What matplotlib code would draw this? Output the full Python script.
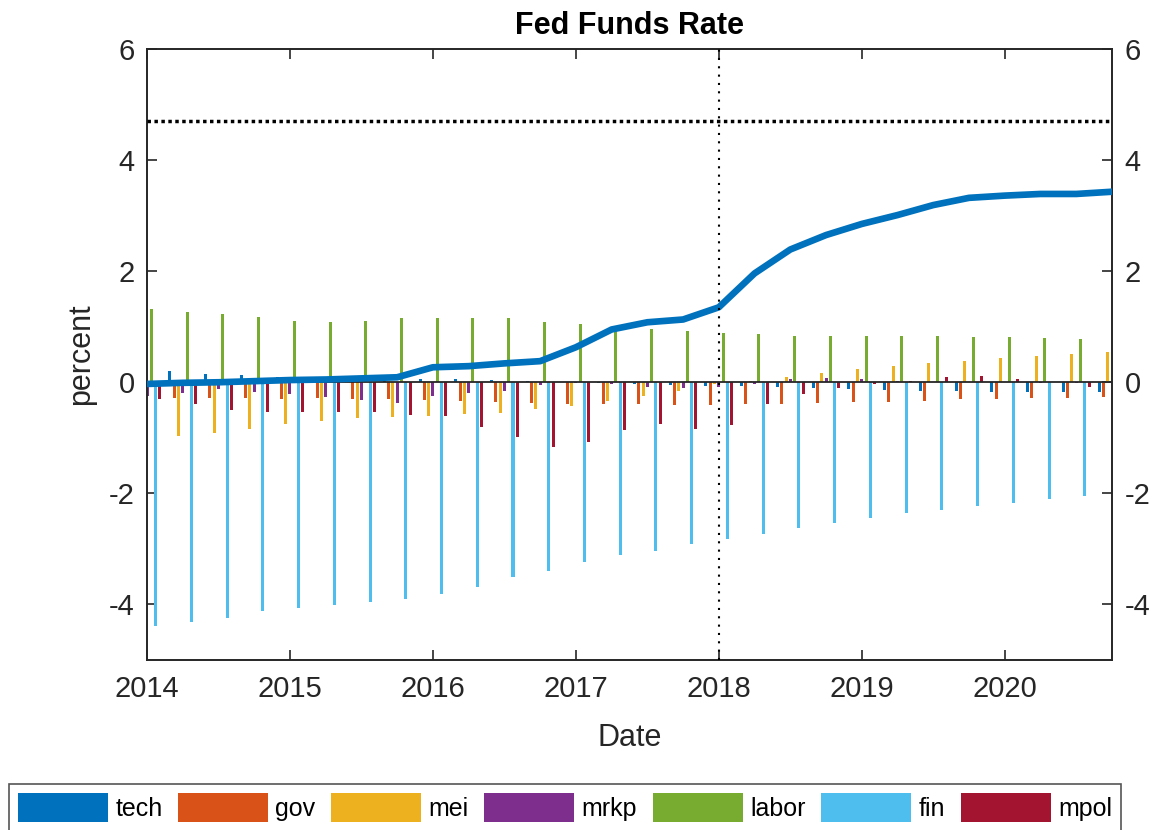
import numpy as np
import matplotlib
matplotlib.use("Agg")
import matplotlib.pyplot as plt

plt.rcParams['font.family'] = ['Liberation Sans', 'DejaVu Sans']
plt.rcParams['axes.unicode_minus'] = False

# quarterly dates, 2014Q1 .. 2020Q4
dates = 2014 + 0.25 * np.arange(28)

names = ['tech', 'gov', 'mei', 'mrkp', 'labor', 'fin', 'mpol']
colors = ['#0072BD', '#D95319', '#EDB120', '#7E2F8E', '#77AC30', '#4DBEEE', '#A2142F']

tech = [0.00, 0.20, 0.15, 0.13, 0.09, 0.03, 0.02, 0.02, 0.05, 0.06, 0.04, 0.03, 0.01, -0.01,
        -0.04, -0.05, -0.07, -0.07, -0.08, -0.10, -0.13, -0.14, -0.16, -0.16, -0.17, -0.17, -0.17, -0.17]
gov = [-0.25, -0.28, -0.28, -0.29, -0.30, -0.29, -0.30, -0.31, -0.32, -0.34, -0.35, -0.37, -0.39, -0.40,
       -0.40, -0.41, -0.41, -0.40, -0.39, -0.38, -0.36, -0.35, -0.33, -0.31, -0.30, -0.29, -0.28, -0.27]
mei = [-0.95, -0.97, -0.91, -0.85, -0.76, -0.70, -0.65, -0.62, -0.60, -0.58, -0.55, -0.49, -0.42, -0.33,
       -0.25, -0.15, -0.04, 0.02, 0.10, 0.16, 0.23, 0.29, 0.35, 0.39, 0.44, 0.48, 0.51, 0.54]
mrkp = [-0.25, -0.19, -0.13, -0.18, -0.21, -0.26, -0.32, -0.37, -0.25, -0.20, -0.15, -0.05, -0.02, -0.03,
        -0.08, -0.11, -0.09, -0.03, 0.05, 0.07, 0.05, 0.02, 0.00, 0.00, 0.01, -0.01, -0.01, -0.01]
labor = [1.31, 1.26, 1.22, 1.17, 1.11, 1.09, 1.10, 1.15, 1.16, 1.16, 1.15, 1.08, 1.05, 0.92,
         0.95, 0.93, 0.89, 0.87, 0.84, 0.84, 0.84, 0.83, 0.83, 0.82, 0.81, 0.80, 0.78, 0.77]
fin = [-4.38, -4.32, -4.24, -4.11, -4.06, -4.01, -3.95, -3.90, -3.82, -3.68, -3.51, -3.40, -3.23, -3.11,
       -3.03, -2.91, -2.82, -2.73, -2.62, -2.53, -2.44, -2.36, -2.30, -2.23, -2.17, -2.11, -2.05, -1.99]
mpol = [-0.31, -0.39, -0.50, -0.54, -0.53, -0.53, -0.53, -0.59, -0.61, -0.80, -0.99, -1.16, -1.08, -0.86,
        -0.75, -0.84, -0.77, -0.39, -0.21, -0.11, -0.03, 0.03, 0.10, 0.12, 0.06, 0.00, -0.08, -0.05]

# fed funds rate path
ffr = [-0.03, -0.01, 0.00, 0.02, 0.04, 0.05, 0.07, 0.09, 0.27, 0.29, 0.34, 0.38, 0.63, 0.95,
       1.08, 1.13, 1.35, 1.96, 2.39, 2.65, 2.85, 3.01, 3.19, 3.32, 3.36, 3.39, 3.39, 3.43]
ffr_ss = 4.7
cut_date = 2018

series = [tech, gov, mei, mrkp, labor, fin, mpol]

fig = plt.figure(figsize=(11.53, 8.30), dpi=100)
ax = fig.add_axes([0.1275, 0.2048, 0.8369, 0.7362])

step = 0.0301
for i, (vals, c, n) in enumerate(zip(series, colors, names)):
    ax.bar(dates + (i - 3) * step, vals, width=0.021, color=c, linewidth=0, label=n, zorder=2)

ax.axhline(0, color='#262626', lw=1.3, zorder=3)
ax.plot(dates, ffr, color='#0072BD', lw=4.8, zorder=4)
ax.axhline(ffr_ss, color='k', ls=(0, (1, 1)), lw=2.5, zorder=5)
ax.axvline(cut_date, color='k', ls=(0, (1, 3)), lw=1.5, zorder=5)

ax.set_xlim(2014, 2020.75)
ax.set_ylim(-5, 6)
ax.set_xticks(np.arange(2014, 2021))
ax.set_xticklabels([str(y) for y in range(2014, 2021)])
ax.set_yticks([-4, -2, 0, 2, 4, 6])
ax.tick_params(direction='in', length=7, width=1.2, top=True, right=True,
               labelright=True, labelsize=21, pad=9, colors='#262626')
ax.tick_params(axis='x', pad=11)
for s in ax.spines.values():
    s.set_linewidth(1.4)
    s.set_color('#262626')

ax.set_xlabel('Date', fontsize=22, labelpad=14, color='#262626')
ax.set_ylabel('percent', fontsize=22, labelpad=9, color='#262626')
ax.set_title('Fed Funds Rate', fontsize=22, fontweight='bold', pad=11)

handles, labels = ax.get_legend_handles_labels()
leg = fig.legend(handles, labels, loc='upper left', bbox_to_anchor=(9 / 1153, 1 - 784 / 830),
                 borderaxespad=0, ncol=7, fontsize=18, handlelength=3.6, handleheight=1.45,
                 handletextpad=0.3, columnspacing=0.62, borderpad=0.35, fancybox=False,
                 edgecolor='#555555', framealpha=1)
leg.get_frame().set_linewidth(1.2)

fig.savefig('out.png', dpi=100)
